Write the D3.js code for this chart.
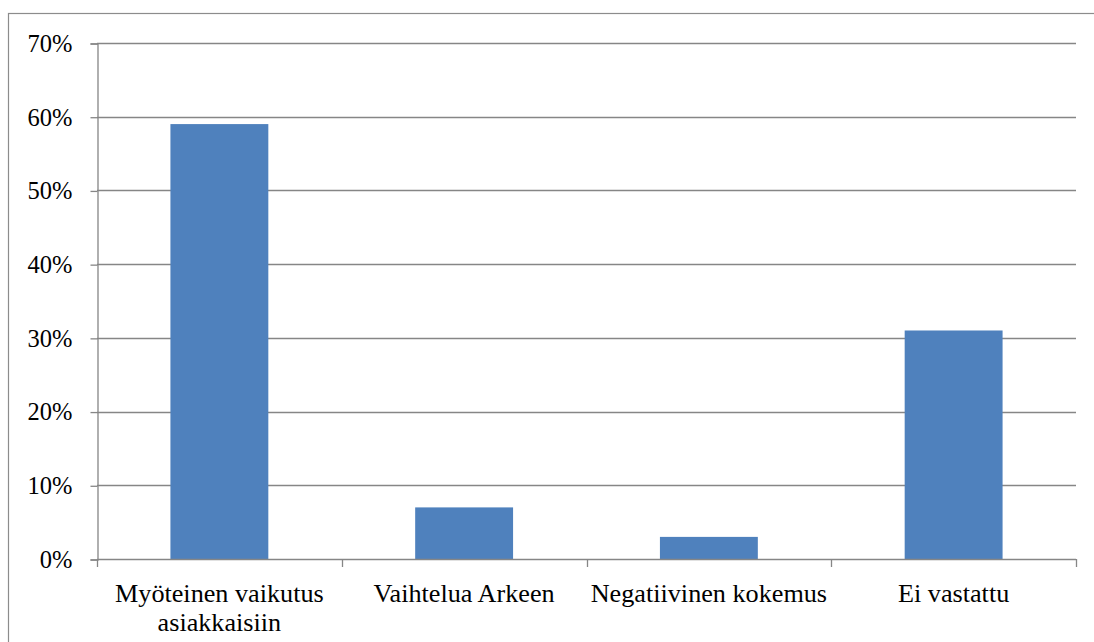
<!DOCTYPE html>
<html>
<head>
<meta charset="utf-8">
<script src="https://cdn.jsdelivr.net/npm/d3@7"></script>
<style>
  html, body { margin: 0; padding: 0; background: #fff; }
  svg { display: block; }
</style>
</head>
<body>
<svg id="chart" width="1094" height="642"></svg>
<script>
const categories = [["Myöteinen vaikutus", "asiakkaisiin"], ["Vaihtelua Arkeen"], ["Negatiivinen kokemus"], ["Ei vastattu"]];
const values = [0.59, 0.07, 0.03, 0.31];
const yTicks = [0, 0.1, 0.2, 0.3, 0.4, 0.5, 0.6, 0.7];

const FONT = "'Liberation Serif', 'Times New Roman', Tinos, serif";
const svg = d3.select("#chart");
const W = 1094, H = 642;
const margin = { left: 97, right: 18, top: 43, bottom: 83 };
const x0 = margin.left, x1 = W - margin.right;
const y0 = H - margin.bottom, y1 = margin.top;

// outer chart border
svg.append("rect")
  .attr("x", 8.5).attr("y", 13.5)
  .attr("width", W + 10).attr("height", H + 10)
  .attr("fill", "none").attr("stroke", "#8c8c8c").attr("stroke-width", 1.2);

const x = d3.scaleBand().domain(d3.range(categories.length)).range([x0, x1]).paddingInner(0.6).paddingOuter(0.3);
const y = d3.scaleLinear().domain([0, 0.7]).range([y0, y1]);

// gridlines
svg.append("g").selectAll("line").data(yTicks.filter(d => d > 0)).join("line")
  .attr("x1", x0).attr("x2", x1)
  .attr("y1", d => Math.round(y(d)) + 0.5).attr("y2", d => Math.round(y(d)) + 0.5)
  .attr("stroke", "#868686").attr("stroke-width", 1.3);

// bars
svg.append("g").selectAll("rect").data(values).join("rect")
  .attr("x", (d, i) => x(i)).attr("width", x.bandwidth())
  .attr("y", d => y(d)).attr("height", d => y0 - y(d))
  .attr("fill", "#4f81bd");

// y axis
const yAxis = d3.axisLeft(y).tickValues(yTicks).tickFormat(d3.format(".0%")).tickSize(7).tickPadding(18);
const gy = svg.append("g").attr("transform", `translate(${x0 + 0.5},0.5)`).call(yAxis);
gy.select(".domain").attr("stroke", "#868686").attr("stroke-width", 1.3);
gy.selectAll(".tick line").attr("stroke", "#868686").attr("stroke-width", 1.3);
gy.selectAll(".tick text").style("font-family", FONT).style("font-size", "24.5px").attr("fill", "#000");

// x axis baseline and ticks at band boundaries
const bounds = d3.range(categories.length + 1).map(i => x0 + i * (x1 - x0) / categories.length);
svg.append("line").attr("x1", x0).attr("x2", x1).attr("y1", y0 + 0.5).attr("y2", y0 + 0.5)
  .attr("stroke", "#868686").attr("stroke-width", 1.3);
svg.append("g").selectAll("line").data(bounds).join("line")
  .attr("x1", d => Math.round(d) + 0.5).attr("x2", d => Math.round(d) + 0.5)
  .attr("y1", y0).attr("y2", y0 + 8)
  .attr("stroke", "#868686").attr("stroke-width", 1.3);

// category labels
const lbl = svg.append("g").selectAll("text").data(categories).join("text")
  .attr("text-anchor", "middle")
  .style("font-family", FONT).style("font-size", "26.2px").attr("fill", "#000")
  .attr("transform", (d, i) => `translate(${x(i) + x.bandwidth() / 2},${y0 + 43})`);
lbl.selectAll("tspan").data(d => d).join("tspan")
  .attr("x", 0).attr("dy", (d, i) => i === 0 ? 0 : 28.5)
  .text(d => d);
</script>
</body>
</html>
